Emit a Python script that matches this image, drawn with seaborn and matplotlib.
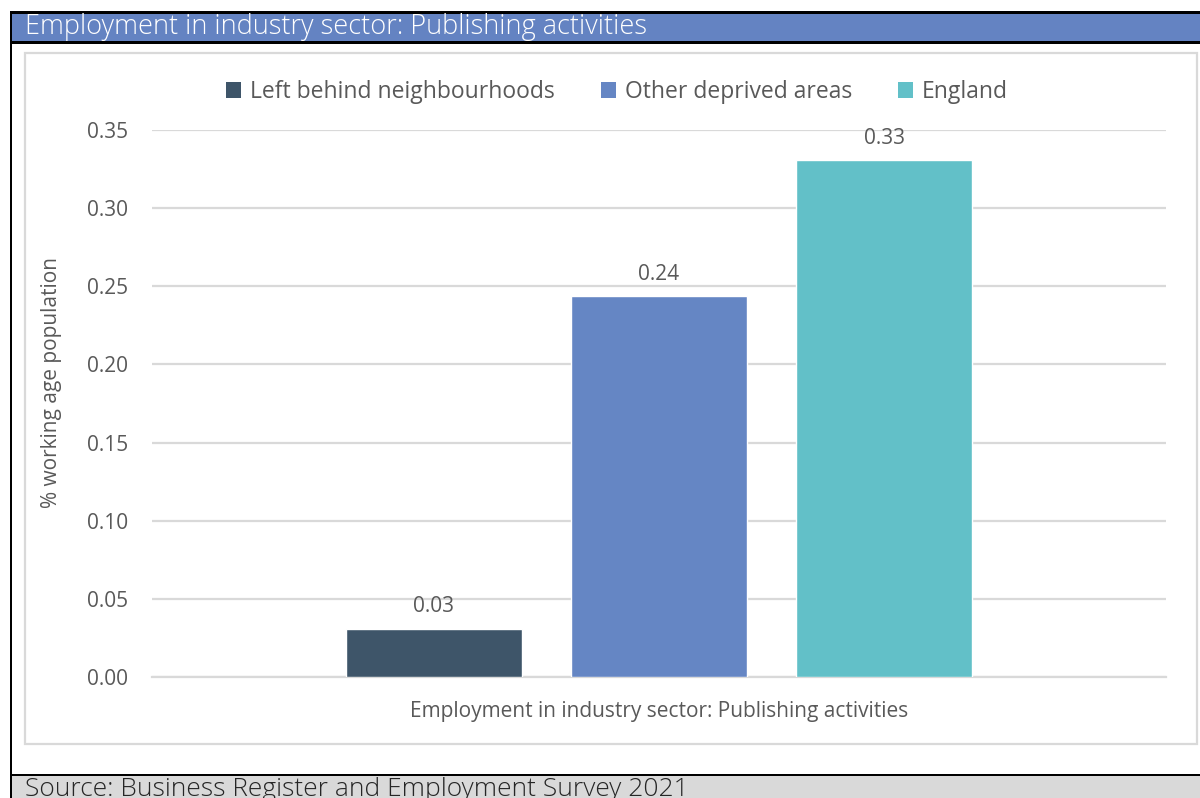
import matplotlib
matplotlib.use("Agg")
import matplotlib.pyplot as plt
from matplotlib.patches import Rectangle
import seaborn as sns
import pandas as pd

# Chart data
sector = "Employment in industry sector: Publishing activities"
groups = ["Left behind neighbourhoods", "Other deprived areas", "England"]
values = [0.031, 0.244, 0.331]
colors = ["#3e5569", "#6586c4", "#62c0c8"]
y_ticks = [0.00, 0.05, 0.10, 0.15, 0.20, 0.25, 0.30, 0.35]

title = "Employment in industry sector: Publishing activities"
y_label = "% working age population"
source = "Source: Business Register and Employment Survey 2021"

df = pd.DataFrame({"sector": [sector] * len(groups), "group": groups, "value": values})

sns.set_theme(style="white")
plt.rcParams["font.family"] = ["Open Sans", "DejaVu Sans"]

W, H = 1200, 798
fig = plt.figure(figsize=(W / 100, H / 100), dpi=100)
fig.patch.set_facecolor("white")

text_col = "#595959"
grid_col = "#d9d9d9"


def px_rect(x0, y0, x1, y1, **kw):
    """Rectangle given in pixel coordinates measured from the top-left."""
    r = Rectangle((x0 / W, 1 - y1 / H), (x1 - x0) / W, (y1 - y0) / H,
                  transform=fig.transFigure, **kw)
    fig.add_artist(r)
    return r


# Title band with black rules
px_rect(10, 12, W, 42, facecolor="#6483c2", edgecolor="none", zorder=1)
px_rect(10, 11, W, 13.5, facecolor="black", edgecolor="none", zorder=2)
px_rect(10, 41, W, 43.5, facecolor="black", edgecolor="none", zorder=2)
# Left rule
px_rect(9.5, 11, 12, H, facecolor="black", edgecolor="none", zorder=2)
# Source band
px_rect(12, 776, W, H, facecolor="#d9d9d9", edgecolor="none", zorder=1)
px_rect(10, 773.5, W, 776, facecolor="black", edgecolor="none", zorder=2)
# Inner chart frame
px_rect(25, 53, 1197, 744, facecolor="none", edgecolor=grid_col, linewidth=1.6, zorder=1)

fig.text(25 / W, 1 - 27 / H, title, color="white", fontsize=19.5,
         ha="left", va="center", fontweight="light")
fig.text(25 / W, 1 - 777 / H, source, color="#262626", fontsize=19,
         ha="left", va="top", fontweight="light")

# Plot area
ax = fig.add_axes([152 / W, 121 / H, (1166 - 152) / W, (677 - 130) / H])
ax.set_facecolor("none")

sns.barplot(data=df, x="sector", y="value", hue="group", hue_order=groups,
            palette=colors, width=0.8, gap=0.218, saturation=1,
            ax=ax, legend=False, zorder=3)

ax.set_xlim(-0.6, 0.6)
ax.set_ylim(0, 0.35)
ax.set_yticks(y_ticks)
ax.set_yticklabels([f"{v:.2f}" for v in y_ticks])
ax.yaxis.grid(True, color=grid_col, linewidth=1.6)
ax.set_axisbelow(True)
for s in ["left", "right", "top"]:
    ax.spines[s].set_visible(False)
ax.spines["bottom"].set_color(grid_col)
ax.spines["bottom"].set_linewidth(1.6)

ax.tick_params(axis="y", length=0, pad=17, labelsize=15, labelcolor=text_col)
ax.tick_params(axis="x", which="major", length=0, pad=17, labelsize=15, labelcolor=text_col)
ax.set_xticks([-0.6], minor=True)
ax.tick_params(axis="x", which="minor", length=5, width=1.6, color=grid_col)

ax.set_xlabel("")
ax.set_ylabel(y_label, fontsize=15, color=text_col)
ax.yaxis.set_label_coords(-90 / (1166 - 152), (677 - 383) / (677 - 130))

for container in ax.containers:
    ax.bar_label(container, fmt="%.2f", padding=8, fontsize=15, color=text_col)

# Legend
handles = [Rectangle((0, 0), 1, 1, facecolor=c, edgecolor="none") for c in colors]
fig.legend(handles, groups, loc="center", bbox_to_anchor=(617 / W, 1 - 92 / H),
           ncol=3, frameon=False, fontsize=16.5, labelcolor=text_col,
           handlelength=0.65, handleheight=0.65, handletextpad=0.4,
           columnspacing=2.0)

fig.savefig("out.png", dpi=100)
